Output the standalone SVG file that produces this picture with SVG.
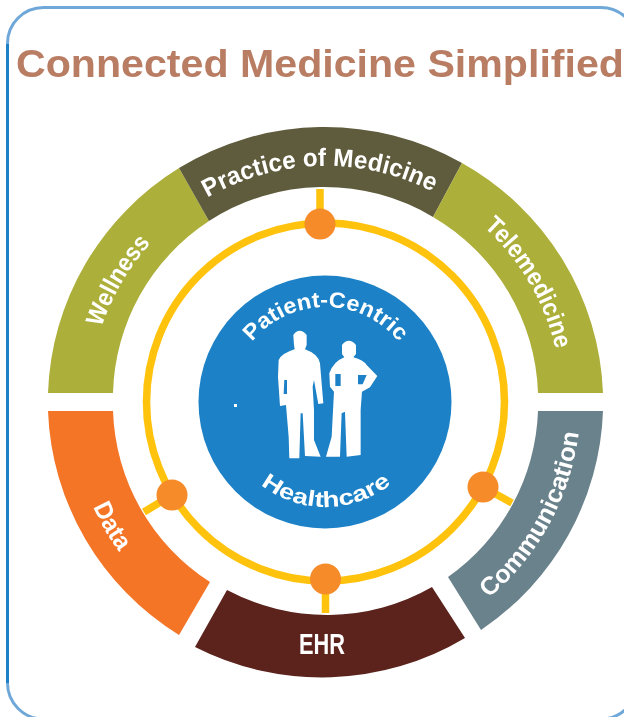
<svg xmlns="http://www.w3.org/2000/svg" width="624" height="717" viewBox="0 0 624 717">
<style>
text{font-family:"Liberation Sans",Arial,sans-serif;font-weight:700;fill:#fff}
.title{fill:#B97D63;font-size:38px}
.seg{font-size:25px}
.hub{font-size:22px}
.wire{fill:none;stroke:#FFC20B;stroke-width:7.5}
.dot{fill:#F68B2A}
.edge{fill:none;stroke-width:3}
</style>
<defs>
<filter id="soft" x="-2%" y="-2%" width="104%" height="104%"><feGaussianBlur stdDeviation="0.55"/></filter>
<path id="cw" d="M89.5 402A236 236 0 1 1 561.5 402A236 236 0 1 1 89.5 402"/>
<path id="ccw" d="M70.5 402A255 255 0 1 0 580.5 402A255 255 0 1 0 70.5 402"/>
<path id="hubcw" d="M230.5 402A95 95 0 1 1 420.5 402A95 95 0 1 1 230.5 402"/>
<path id="hubccw" d="M220.5 402A105 105 0 1 0 430.5 402A105 105 0 1 0 220.5 402"/>
</defs>
<rect width="624" height="717" fill="#fff"/>
<g id="frame">
<path class="edge" stroke="#6FA8D8" d="M7.5 43.5A36 36 0 0 1 43.5 7.5H601A36 36 0 0 1 637 43.5V683A36 36 0 0 1 601 719H43.5A36 36 0 0 1 7.5 683"/>
<path class="edge" stroke="#1C81C6" d="M7.5 43.5V683"/>
</g>
<g filter="url(#soft)">
<text id="title" class="title" x="16" y="77" textLength="608" lengthAdjust="spacingAndGlyphs">Connected Medicine Simplified</text>
<g id="connectors">
<circle class="wire" cx="325.5" cy="402" r="179"/>
<path class="wire" d="M320 189V224M325.5 579V613M172 495L144 512M483 487L512 503"/>
</g>
<g id="wellness">
<path fill="#ADAF3A" d="M48 393A278 276 0 0 1 179 168L209 221A212 212 0 0 0 113 393Z"/>
<text class="seg"><textPath href="#cw" startOffset="76" textLength="98" lengthAdjust="spacingAndGlyphs">Wellness</textPath></text>
</g>
<g id="practice">
<path fill="#5F5B3D" d="M179 168A278 276 0 0 1 462 163L433 217A212 212 0 0 0 209 221Z"/>
<text class="seg"><textPath href="#cw" startOffset="247" textLength="235" lengthAdjust="spacingAndGlyphs">Practice of Medicine</textPath></text>
</g>
<g id="telemedicine">
<path fill="#ADAF3A" d="M462 163A278 276 0 0 1 603 393H538A212 212 0 0 0 433 217Z"/>
<text class="seg"><textPath href="#cw" startOffset="544" textLength="144" lengthAdjust="spacingAndGlyphs">Telemedicine</textPath></text>
</g>
<g id="communication">
<path fill="#6B828C" d="M603 411A278 276 0 0 1 481 630L448 577A212 212 0 0 0 538 411Z"/>
<text class="seg"><textPath href="#ccw" startOffset="577" textLength="193" lengthAdjust="spacingAndGlyphs">Communication</textPath></text>
</g>
<g id="data">
<path fill="#F47427" d="M48 411A278 276 0 0 0 179 635L210 582A212 212 0 0 1 113 411Z"/>
<text class="seg"><textPath href="#ccw" startOffset="108" textLength="52" lengthAdjust="spacingAndGlyphs">Data</textPath></text>
</g>
<g id="ehr">
<path fill="#5B231C" d="M195 647A278 276 0 0 0 465 638L432 587A212 212 0 0 1 227 590Z"/>
<text x="299" y="654" font-size="29" textLength="46" lengthAdjust="spacingAndGlyphs">EHR</text>
</g>
<g id="nodes">
<circle id="node-top" class="dot" cx="320" cy="224" r="15.5"/>
<circle id="node-bottom" class="dot" cx="325.5" cy="579" r="15.5"/>
<circle id="node-left" class="dot" cx="172" cy="495" r="15.5"/>
<circle id="node-right" class="dot" cx="483" cy="487" r="15.5"/>
</g>
<g id="hub">
<circle cx="325" cy="402" r="126.5" fill="#1C81C6"/>
<text class="hub"><textPath href="#hubcw" startOffset="65" textLength="168" lengthAdjust="spacingAndGlyphs">Patient-Centric</textPath></text>
<text class="hub"><textPath href="#hubccw" startOffset="95" textLength="141" lengthAdjust="spacingAndGlyphs">Healthcare</textPath></text>
<g fill="#fff" transform="translate(190 280) scale(.3333)">
<path d="M310 165Q328 140 350 165L350 195L345 208Q385 222 390 250L400 370L385 372L372 300L368 320L372 390L372 480L392 530L345 528L338 400L332 400L328 535L298 535L296 470L288 375L270 378L264 290L266 240Q275 220 314 208L312 195Z"/>
<path d="M456 195Q476 170 498 195L498 222L490 232Q520 240 530 255L562 288L540 322L516 335L512 390L512 525L470 530L465 395L455 400L450 530L408 530L425 470L432 335L420 320L418 280Q430 245 463 232L456 222Z"/>
<path fill="#1C81C6" d="M436 282H452V318H436ZM504 285H530L518 313H504ZM283 300H291V342H281Z"/>
</g>
<rect x="234" y="404" width="3" height="3" fill="#fff"/>
</g>
</g>
</svg>
